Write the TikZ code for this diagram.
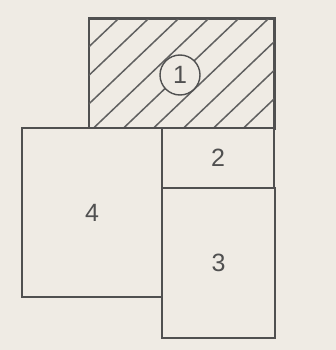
\documentclass[tikz,border=0pt]{standalone}
\usepackage{fontspec}
\setmainfont{Liberation Sans}
\definecolor{paper}{HTML}{EFEBE4}
\definecolor{ink}{HTML}{505050}
\definecolor{hatch}{HTML}{606060}
\begin{document}
\begin{tikzpicture}[x=1pt,y=-1pt,
  box/.style={draw=ink,line width=1.5pt,fill=paper,inner sep=0pt,
    font=\fontsize{25}{25}\selectfont,text=ink},
  badge/.style={circle,draw=ink,line width=1.4pt,fill=paper,minimum size=40pt,inner sep=0pt,
    font=\fontsize{25}{25}\selectfont,text=ink}]
\fill[paper] (0,0) rectangle (336,350);
\useasboundingbox (0,0) rectangle (336,350);
% area 1 (hatched)
\node[box,minimum width=185pt,minimum height=109pt] (r1) at (181.5,73.5) {};
\begin{scope}
  \clip (r1.south west) rectangle (r1.north east);
  \foreach \n in {0,...,9}{
    \pgfmathsetmacro{\c}{138+30*\n}
    \draw[hatch,line width=1.5pt] (\c,0) -- ({\c-157.5},150);
  }
\end{scope}
\draw[ink,line width=1.5pt] (r1.south west) rectangle (r1.north east);
\node[badge] (c1) at (180,75) {1};
% area 4
\node[box,minimum width=140pt,minimum height=169pt] (r4) at (92,212.5) {4};
% area 2
\node[box,minimum width=112pt,minimum height=60pt] (r2) at (218,158) {2};
% area 3
\node[box,minimum width=113pt,minimum height=150pt] (r3) at (218.5,263) {3};
\end{tikzpicture}
\end{document}
